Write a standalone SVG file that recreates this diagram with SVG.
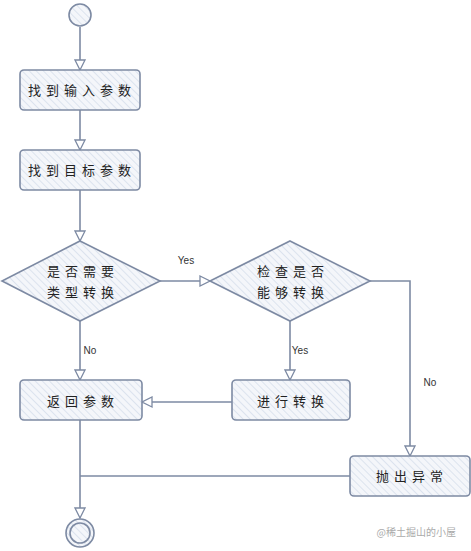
<svg xmlns="http://www.w3.org/2000/svg" width="471" height="551" viewBox="0 0 471 551">
<style>
.n{stroke:#7d8aa3;stroke-width:1.6;fill:url(#h)}
.c{stroke:#7d8aa3;stroke-width:1.6;fill:none}
.t{font-family:"Noto Sans CJK SC","Noto Sans",sans-serif;font-size:13px;fill:#222;text-anchor:middle;letter-spacing:5px}
.l{font-family:"Liberation Sans",sans-serif;font-size:10px;fill:#333;text-anchor:middle}
</style>
<defs>
<pattern id="h" width="5" height="5" patternUnits="userSpaceOnUse" patternTransform="rotate(-45)">
<rect width="5" height="5" fill="#f4f6fa"/>
<line x1="0" y1="0" x2="0" y2="5" stroke="#cdd6e6" stroke-width="1.2"/>
</pattern>
<marker id="a" viewBox="0 0 12 12" refX="11" refY="6" markerWidth="12" markerHeight="12" markerUnits="userSpaceOnUse" orient="auto">
<path d="M1,1 L11,6 L1,11 Z" fill="#fff" stroke="#7d8aa3" stroke-width="1.3"/>
</marker>
</defs>
<g id="connectors">
<line class="c" x1="80" y1="27" x2="80" y2="70" marker-end="url(#a)"/>
<line class="c" x1="80" y1="110" x2="80" y2="150" marker-end="url(#a)"/>
<line class="c" x1="80" y1="190" x2="80" y2="241" marker-end="url(#a)"/>
<line class="c" x1="160" y1="281" x2="210" y2="281" marker-end="url(#a)"/>
<polyline class="c" points="370,281 410,281 410,456" marker-end="url(#a)"/>
<line class="c" x1="290" y1="321" x2="290" y2="380" marker-end="url(#a)"/>
<line class="c" x1="232" y1="402" x2="142" y2="402" marker-end="url(#a)"/>
<line class="c" x1="80" y1="321" x2="80" y2="380" marker-end="url(#a)"/>
<line class="c" x1="80" y1="420" x2="80" y2="518" marker-end="url(#a)"/>
<line class="c" x1="350" y1="476" x2="80" y2="476"/>
<text class="l" x="186" y="264">Yes</text>
<text class="l" x="90" y="354">No</text>
<text class="l" x="300" y="354">Yes</text>
<text class="l" x="430" y="386">No</text>
</g>
<g id="start"><circle class="n" cx="80" cy="15" r="11"/></g>
<g id="n1"><rect class="n" x="20" y="70" width="120" height="40" rx="4"/><text class="t" x="82" y="95">找到输入参数</text></g>
<g id="n2"><rect class="n" x="20" y="150" width="120" height="40" rx="4"/><text class="t" x="82" y="175">找到目标参数</text></g>
<g id="d1"><polygon class="n" points="80,241 160,281 80,321 2,281"/><text class="t" x="83" y="276">是否需要</text><text class="t" x="83" y="297">类型转换</text></g>
<g id="d2"><polygon class="n" points="290,241 370,281 290,321 210,281"/><text class="t" x="293" y="276">检查是否</text><text class="t" x="293" y="297">能够转换</text></g>
<g id="n3"><rect class="n" x="20" y="380" width="122" height="40" rx="4"/><text class="t" x="83" y="406">返回参数</text></g>
<g id="n4"><rect class="n" x="232" y="380" width="118" height="40" rx="4"/><text class="t" x="293" y="406">进行转换</text></g>
<g id="n5"><rect class="n" x="350" y="456" width="120" height="40" rx="4"/><text class="t" x="412" y="481">抛出异常</text></g>
<g id="end"><circle class="n" cx="80" cy="533" r="14"/><circle class="c" cx="80" cy="533" r="10"/></g>
<text x="456" y="536" font-family="Noto Sans CJK SC,sans-serif" font-size="10" fill="#aaa" text-anchor="end">@稀土掘山的小屋</text>
</svg>
